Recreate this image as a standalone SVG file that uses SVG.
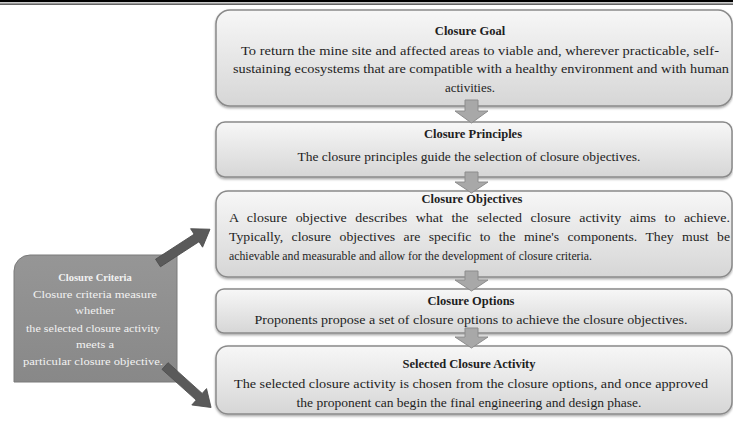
<svg xmlns="http://www.w3.org/2000/svg" width="733" height="424" viewBox="0 0 733 424">
<defs>
<linearGradient id="g" x1="0" y1="0" x2="0" y2="1">
<stop offset="0" stop-color="#f7f7f7"/>
<stop offset="1" stop-color="#d6d6d6"/>
</linearGradient>
<linearGradient id="gc" x1="0" y1="0" x2="0" y2="1">
<stop offset="0" stop-color="#969696"/>
<stop offset="1" stop-color="#888888"/>
</linearGradient>
<filter id="sh" x="-5%" y="-10%" width="110%" height="130%">
<feDropShadow dx="0" dy="1.5" stdDeviation="1" flood-color="#000" flood-opacity="0.35"/>
</filter>
</defs>
<style>
.box{fill:url(#g);stroke:#8a8a8a;stroke-width:1.5;filter:url(#sh)}
.t{font-family:"Liberation Serif","Times New Roman",serif;font-size:12.5px;fill:#1e1e1e;text-anchor:middle}
.b{font-weight:bold}
.l{text-anchor:start}
.j{word-spacing:4.5px}
.c{font-family:"Liberation Serif","Times New Roman",serif;font-size:10.5px;fill:#f2f2f2;text-anchor:middle}
.da{fill:#a8a8a8;stroke:#8c8c8c;stroke-width:1}
.sa{fill:#5a5a5a;stroke:#4d4d4d;stroke-width:0.8}
</style>
<rect x="0" y="0" width="733" height="2.2" fill="#000"/>
<rect x="0" y="3.6" width="733" height="1" fill="#000"/>

<g id="goal">
<rect class="box" x="216" y="10" width="516" height="96" rx="14"/>
<text class="t b" x="470" y="35">Closure Goal</text>
<text class="t" x="480" y="55" textLength="478" lengthAdjust="spacingAndGlyphs">To return the mine site and affected areas to viable and, wherever practicable, self-</text>
<text class="t" x="481" y="73" textLength="496" lengthAdjust="spacingAndGlyphs">sustaining ecosystems that are compatible with a healthy environment and with human</text>
<text class="t" x="470" y="92" textLength="50" lengthAdjust="spacingAndGlyphs">activities.</text>
</g>

<g id="principles">
<rect class="box" x="216" y="122" width="516" height="55" rx="9"/>
<text class="t b" x="473" y="138">Closure Principles</text>
<text class="t" x="469" y="161" textLength="343" lengthAdjust="spacingAndGlyphs">The closure principles guide the selection of closure objectives.</text>
</g>

<g id="objectives">
<rect class="box" x="216" y="191" width="516" height="86" rx="12"/>
<text class="t b" x="472" y="203">Closure Objectives</text>
<text class="t l j" x="229" y="222" textLength="501" lengthAdjust="spacingAndGlyphs">A closure objective describes what the selected closure activity aims to achieve.</text>
<text class="t l j" x="229" y="241" textLength="501" lengthAdjust="spacingAndGlyphs">Typically, closure objectives are specific to the mine's components. They must be</text>
<text class="t l" x="229" y="260" textLength="363" lengthAdjust="spacingAndGlyphs">achievable and measurable and allow for the development of closure criteria.</text>
</g>

<g id="options">
<rect class="box" x="216" y="289" width="516" height="44" rx="8"/>
<text class="t b" x="471" y="305">Closure Options</text>
<text class="t" x="471" y="324" textLength="433" lengthAdjust="spacingAndGlyphs">Proponents propose a set of closure options to achieve the closure objectives.</text>
</g>

<g id="activity">
<rect class="box" x="216" y="346" width="516" height="68" rx="12"/>
<text class="t b" x="469" y="368">Selected Closure Activity</text>
<text class="t" x="471" y="388" textLength="474" lengthAdjust="spacingAndGlyphs">The selected closure activity is chosen from the closure options, and once approved</text>
<text class="t" x="469" y="407" textLength="345" lengthAdjust="spacingAndGlyphs">the proponent can begin the final engineering and design phase.</text>
</g>

<g id="criteria">
<path d="M30,255 H177 V382 H14 V271 A16,16 0 0 1 30,255 Z" fill="url(#gc)" stroke="#7a7a7a" stroke-width="1"/>
<text class="c b" x="95" y="281">Closure Criteria</text>
<text class="c" x="95" y="298" textLength="124" lengthAdjust="spacingAndGlyphs">Closure criteria measure</text>
<text class="c" x="95" y="314" textLength="40" lengthAdjust="spacingAndGlyphs">whether</text>
<text class="c" x="93" y="332" textLength="134" lengthAdjust="spacingAndGlyphs">the selected closure activity</text>
<text class="c" x="95" y="348" textLength="38" lengthAdjust="spacingAndGlyphs">meets a</text>
<text class="c" x="93" y="365" textLength="140" lengthAdjust="spacingAndGlyphs">particular closure objective.</text>
</g>

<g id="connectors">
<polygon class="da" points="465,100 478,100 478,111 488,111 471.5,123 455,111 465,111"/>
<polygon class="da" points="465,172 478,172 478,182 488,182 471.5,193 455,182 465,182"/>
<polygon class="da" points="465,271 478,271 478,280 488,280 471.5,291 455,280 465,280"/>
<polygon class="da" points="465,328 478,328 478,337 488,337 471.5,348 455,337 465,337"/>
<polygon class="sa" transform="translate(158,263) rotate(-33)" points="0,-4.5 46,-4.5 46,-11 62,0 46,11 46,4.5 0,4.5"/>
<polygon class="sa" transform="translate(165,366) rotate(42)" points="0,-4.5 46,-4.5 46,-11 62,0 46,11 46,4.5 0,4.5"/>
</g>
</svg>
